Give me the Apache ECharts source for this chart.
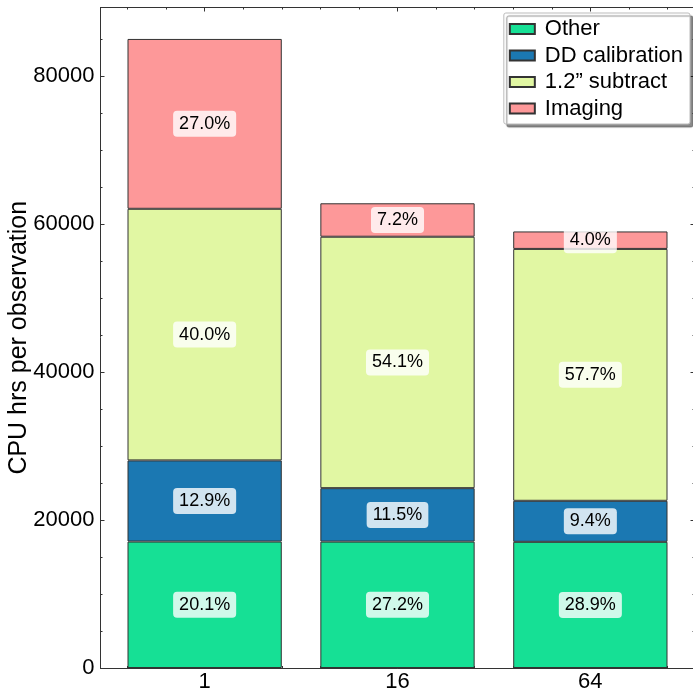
<!DOCTYPE html>
<html><head><meta charset="utf-8">
<script src="https://cdn.jsdelivr.net/npm/echarts@6/dist/echarts.min.js"></script>
<style>html,body{margin:0;padding:0;background:#fff}#c{width:693px;height:689px}</style>
</head><body><div id="c"></div>
<script>
// ---- data ----
const categories = ['1', '16', '64'];
const seriesNames = ['Other', 'DD calibration', '1.2\u201d subtract', 'Imaging'];
const other    = [17085, 17080, 17050];
const ddCal    = [10965, 7220, 5545];
const subtract = [34000, 33975, 34035];
const imaging  = [22950, 4520, 2360];
const yMax = 89250;

// ---- style ----
const colors = ['#16e095', '#1b78b2', '#e1f7a3', '#fd9899'];
const FONT = 'Liberation Sans';
const dark = '#333';
const TICK_FS = 22;

const seriesValues = [other, ddCal, subtract, imaging];
const totals = categories.map((c, i) => seriesValues.reduce((s, arr) => s + arr[i], 0));

// frame grid (spines / ticks) and bar grid (category band layout)
const frameLeft = 100.5, frameWidth = 594, frameTop = 7.5, frameHeight = 660.5;
const unit = frameWidth / 3.08;            // pixels per category step
const barGridLeft = frameLeft + 0.04 * unit;
const barGridWidth = 3 * unit;

const chart = echarts.init(document.getElementById('c'));

function xAxisDef(pos, showLabel) {
  return {
    type: 'value', gridIndex: 0, position: pos, min: -0.54, max: 2.54, minInterval: 1, splitNumber: 3,
    axisLine: { show: true, onZero: false, lineStyle: { color: dark, width: 1 } },
    axisTick: { show: true, inside: true, length: 4, lineStyle: { color: dark } },
    minorTick: { show: true, splitNumber: 5, length: 2, lineStyle: { color: dark } },
    splitLine: { show: false },
    axisLabel: {
      show: showLabel, fontSize: TICK_FS, color: '#000', fontFamily: FONT, margin: 3,
      formatter: v => (Number.isInteger(v) && categories[v] !== undefined) ? categories[v] : ''
    }
  };
}
function yAxisDef(pos, showLabel) {
  return {
    type: 'value', gridIndex: 0, position: pos, min: 0, max: yMax, interval: 20000,
    name: showLabel ? 'CPU hrs per observation' : '',
    nameLocation: 'middle', nameGap: 69, nameRotate: 90, nameMoveOverlap: false,
    nameTextStyle: { fontSize: 25, color: '#000', fontFamily: FONT },
    axisLine: { show: true, onZero: false, lineStyle: { color: dark, width: 1 } },
    axisTick: { show: true, inside: true, length: 4, lineStyle: { color: dark } },
    minorTick: { show: true, splitNumber: 4, length: 2, lineStyle: { color: dark } },
    splitLine: { show: false },
    axisLabel: {
      show: showLabel, fontSize: TICK_FS, color: '#000', fontFamily: FONT, margin: 6,
      formatter: v => (v % 20000 === 0) ? String(v) : ''
    }
  };
}

const series = seriesValues.map((arr, si) => ({
  type: 'bar', name: seriesNames[si], stack: 'total',
  xAxisIndex: 2, yAxisIndex: 2,
  barWidth: '80%',
  data: arr,
  itemStyle: { color: colors[si], borderColor: dark, borderWidth: 1 },
  label: {
    show: true, position: 'inside', fontSize: 18, fontFamily: FONT, color: '#000',
    backgroundColor: 'rgba(255,255,255,0.8)', borderRadius: 4, padding: [4, 6],
    formatter: p => (p.value / totals[p.dataIndex] * 100).toFixed(1) + '%'
  }
}));

chart.setOption({
  animation: false,
  textStyle: { fontFamily: FONT },
  grid: [
    { left: frameLeft, top: frameTop, width: frameWidth, height: frameHeight, containLabel: false, outerBoundsMode: 'none' },
    { left: barGridLeft, top: frameTop, width: barGridWidth, height: frameHeight, containLabel: false, outerBoundsMode: 'none' }
  ],
  xAxis: [
    xAxisDef('bottom', true), xAxisDef('top', false),
    { type: 'category', gridIndex: 1, data: categories, show: false, boundaryGap: true }
  ],
  yAxis: [
    yAxisDef('left', true), yAxisDef('right', false),
    { type: 'value', gridIndex: 1, min: 0, max: yMax, show: false, splitLine: { show: false } }
  ],
  legend: {
    right: 3, top: 13, orient: 'vertical', align: 'left',
    data: seriesNames,
    itemWidth: 25, itemHeight: 10, itemGap: 4.5,
    padding: [5, 7, 4.5, 5],
    backgroundColor: '#fff', borderColor: '#bbb', borderWidth: 1, borderRadius: 2,
    shadowColor: 'rgba(0,0,0,0.45)', shadowBlur: 1, shadowOffsetX: 3, shadowOffsetY: 3,
    textStyle: { fontSize: 22, color: '#000', fontFamily: FONT, padding: [0, 0, 0, 5] },
    icon: 'rect'
  },
  series: series
});
</script>
</body></html>
